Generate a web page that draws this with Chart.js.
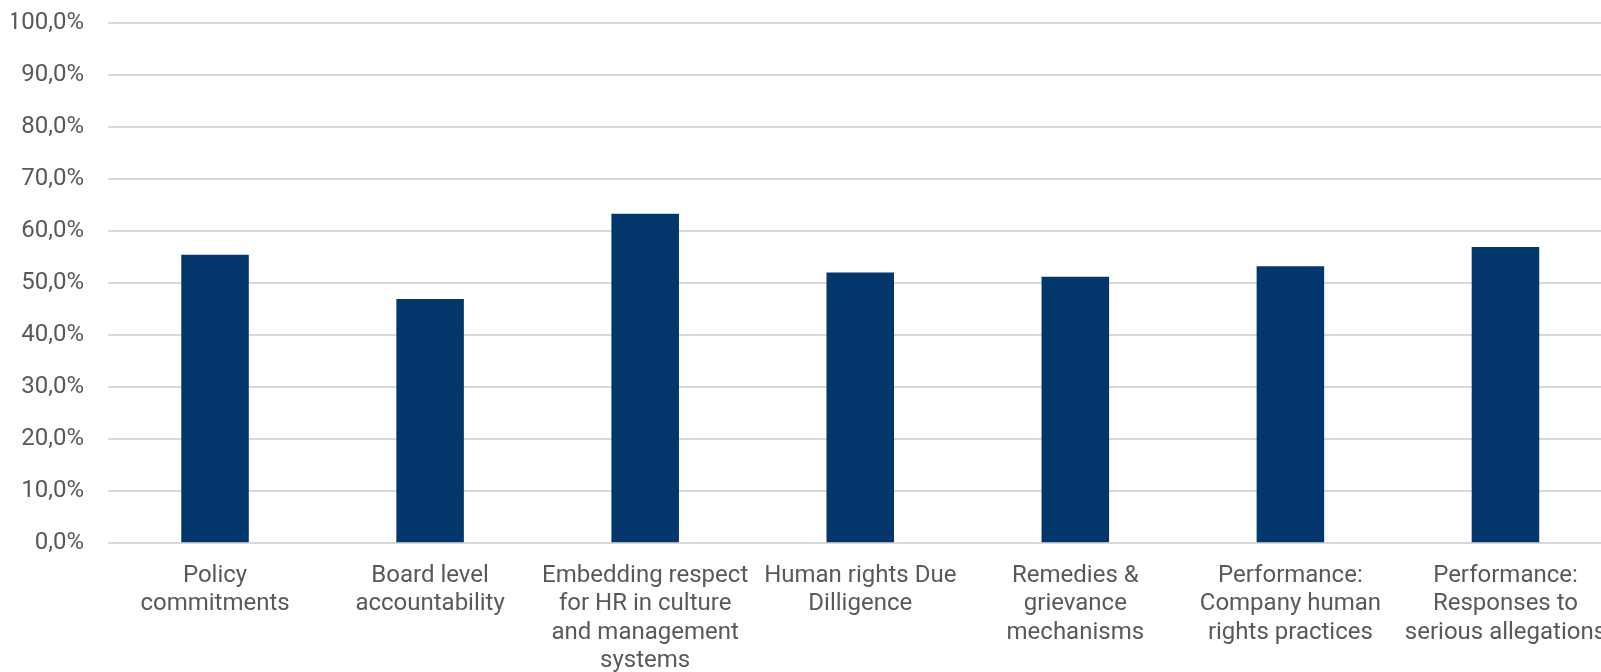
<!DOCTYPE html>
<html>
<head>
<meta charset="utf-8">
<script src="https://cdn.jsdelivr.net/npm/chart.js@4.4.1/dist/chart.umd.min.js"></script>
<style>
  html, body { margin: 0; padding: 0; background: #fff; overflow: hidden; }
  #wrap { width: 1625px; height: 672px; }
</style>
</head>
<body>
<div id="wrap"><canvas id="scoreChart" width="1625" height="672"></canvas></div>
<script>
// Average score per theme (%)
let themes = [
  ['Policy', 'commitments'],
  ['Board level', 'accountability'],
  ['Embedding respect', 'for HR in culture', 'and management', 'systems'],
  ['Human rights Due', 'Dilligence'],
  ['Remedies &', 'grievance', 'mechanisms'],
  ['Performance:', 'Company human', 'rights practices'],
  ['Performance:', 'Responses to', 'serious allegations']
];
let scores = [55.4, 46.9, 63.3, 52.0, 51.2, 53.2, 56.9];
let yTicks = [0, 10, 20, 30, 40, 50, 60, 70, 80, 90, 100];

let textColor = '#595959';

let ctx = document.getElementById('scoreChart');
let scoreChart = new Chart(ctx, {
  type: 'bar',
  data: {
    labels: themes,
    datasets: [{
      data: scores,
      backgroundColor: '#03376B',
      borderWidth: 0,
      barPercentage: 0.314,
      categoryPercentage: 1
    }]
  },
  options: {
    responsive: false,
    animation: false,
    layout: {
      padding: { top: 22.5, left: 11.5, right: 12, bottom: 0 }
    },
    plugins: {
      legend: { display: false },
      tooltip: { enabled: false }
    },
    scales: {
      x: {
        grid: { display: false },
        border: { display: false },
        afterFit: function (axis) {
          axis.height = 128.7;
          axis.paddingLeft = 0;
          axis.paddingRight = 0;
        },
        ticks: {
          color: textColor,
          font: { family: 'Roboto', size: 24, lineHeight: '28.5px' },
          padding: 10,
          maxRotation: 0,
          autoSkip: false
        }
      },
      y: {
        min: 0,
        max: 100,
        afterBuildTicks: function (axis) {
          axis.ticks = yTicks.map(function (v) { return { value: v }; });
        },
        afterFit: function (axis) {
          axis.width = 96;
          axis.paddingTop = 0;
          axis.paddingBottom = 0;
        },
        grid: { color: '#D9D9D9', lineWidth: 2, drawTicks: false },
        border: { display: false },
        ticks: {
          color: textColor,
          font: { family: 'Roboto', size: 24 },
          padding: 23.5,
          callback: function (value) {
            return value.toFixed(1).replace('.', ',') + '%';
          }
        }
      }
    }
  }
});
</script>
</body>
</html>
